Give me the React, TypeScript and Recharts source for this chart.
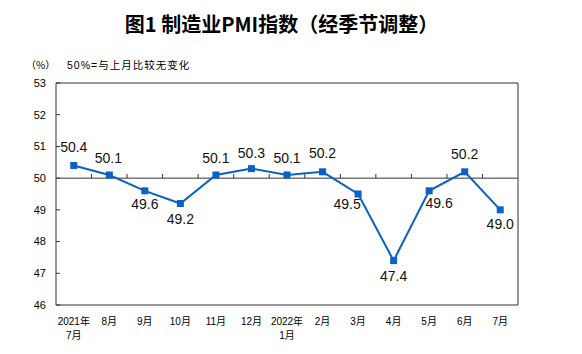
import { LineChart, Line, XAxis, YAxis, ReferenceLine, ReferenceArea, LabelList } from "recharts";

const months = ["2021年\n7月", "8月", "9月", "10月", "11月", "12月", "2022年\n1月", "2月", "3月", "4月", "5月", "6月", "7月"];
const pmi = [50.4, 50.1, 49.6, 49.2, 50.1, 50.3, 50.1, 50.2, 49.5, 47.4, 49.6, 50.2, 49.0];
const yTicks = [46, 47, 48, 49, 50, 51, 52, 53];

const data = months.map((m, i) => ({ idx: i, month: m, pmi: pmi[i] }));

const BLUE = "#0A62C6";
const FONT = "'Liberation Sans', Arial, 'Noto Sans CJK SC', sans-serif";

// label offsets from the point (text centre), per point
const labelOffset: [number, number][] = [
  [0, -18], [-1, -17], [0, 13], [0, 16], [0, -17], [0, -16], [0, -17],
  [0, -19], [-11, 10], [0, 15], [10, 12], [0, -18], [0, 14],
];

function XTick(props: any) {
  const { x, y, payload } = props;
  const lines = String(months[payload.value] ?? "").split("\n");
  return (
    <g>
      {lines.map((t, i) => (
        <text key={i} x={x} y={y + 20 + i * 14} textAnchor="middle" fontSize={10} fill="#000" fontFamily={FONT}>
          {t}
        </text>
      ))}
    </g>
  );
}

function YTick(props: any) {
  const { x, y, payload } = props;
  return (
    <g>
      <line x1={x} x2={x + 4} y1={y} y2={y} stroke="#333" />
      <text x={x - 10} y={y} dy="0.35em" textAnchor="end" fontSize={11} fill="#000" fontFamily={FONT}>
        {payload.value}
      </text>
    </g>
  );
}

function SquareDot(props: any) {
  const { cx, cy } = props;
  if (cx == null || cy == null) return null;
  return <rect x={cx - 3.5} y={cy - 3.5} width={7} height={7} fill={BLUE} />;
}

function PointLabel(props: any) {
  const { x, y, value, index } = props;
  const [dx, dy] = labelOffset[index] ?? [0, -16];
  return (
    <text x={x + dx} y={y + dy} dy="0.35em" textAnchor="middle" fontSize={14} fill="#111" fontFamily={FONT}>
      {Number(value).toFixed(1)}
    </text>
  );
}

export default function App() {
  return (
    <div style={{ position: "absolute", left: 0, top: 0, width: 582, height: 354, background: "#fff" }}>
      <div
        style={{
          position: "absolute", left: 0, width: 563, top: 11, textAlign: "center",
          fontSize: 20, fontWeight: 700, fontFamily: "'Noto Sans CJK SC', sans-serif", color: "#000", lineHeight: "26px",
        }}
      >
        图1 制造业PMI指数（经季节调整）
      </div>
      <div style={{ position: "absolute", left: 26, top: 57, fontSize: 10, fontFamily: "'Noto Sans CJK SC', sans-serif", lineHeight: "16px" }}>
        （%）
      </div>
      <div style={{ position: "absolute", left: 67, top: 57, fontSize: 10.5, fontFamily: FONT, lineHeight: "16px", letterSpacing: 1 }}>
        50%=与上月比较无变化
      </div>
      <LineChart width={582} height={354} data={data} margin={{ top: 83, right: 64, bottom: 19, left: 11 }}>
        <XAxis
          dataKey="idx"
          type="number"
          domain={[-0.5, 12.5]}
          ticks={data.map((d) => d.idx)}
          interval={0}
          axisLine={false}
          tickLine={false}
          tickSize={0}
          tickMargin={0}
          height={30}
          tick={<XTick />}
        />
        <YAxis
          domain={[46, 53]}
          ticks={yTicks}
          interval={0}
          axisLine={false}
          tickLine={false}
          tickSize={0}
          tickMargin={0}
          width={45}
          tick={<YTick />}
        />
        <ReferenceArea x1={-0.5} x2={12.5} y1={46} y2={53} fill="none" stroke="#333" strokeWidth={1} ifOverflow="visible" />
        <ReferenceLine y={50} stroke="#333" strokeWidth={1} />
        {months.slice(1).map((_, i) => (
          <ReferenceLine
            key={i}
            segment={[{ x: i + 0.5, y: 50 }, { x: i + 0.5, y: 50.13 }]}
            stroke="#333"
            strokeWidth={1}
          />
        ))}
        <Line
          type="linear"
          dataKey="pmi"
          stroke={BLUE}
          strokeWidth={2}
          dot={<SquareDot />}
          activeDot={false}
          isAnimationActive={false}
        >
          <LabelList dataKey="pmi" content={<PointLabel />} />
        </Line>
      </LineChart>
    </div>
  );
}
